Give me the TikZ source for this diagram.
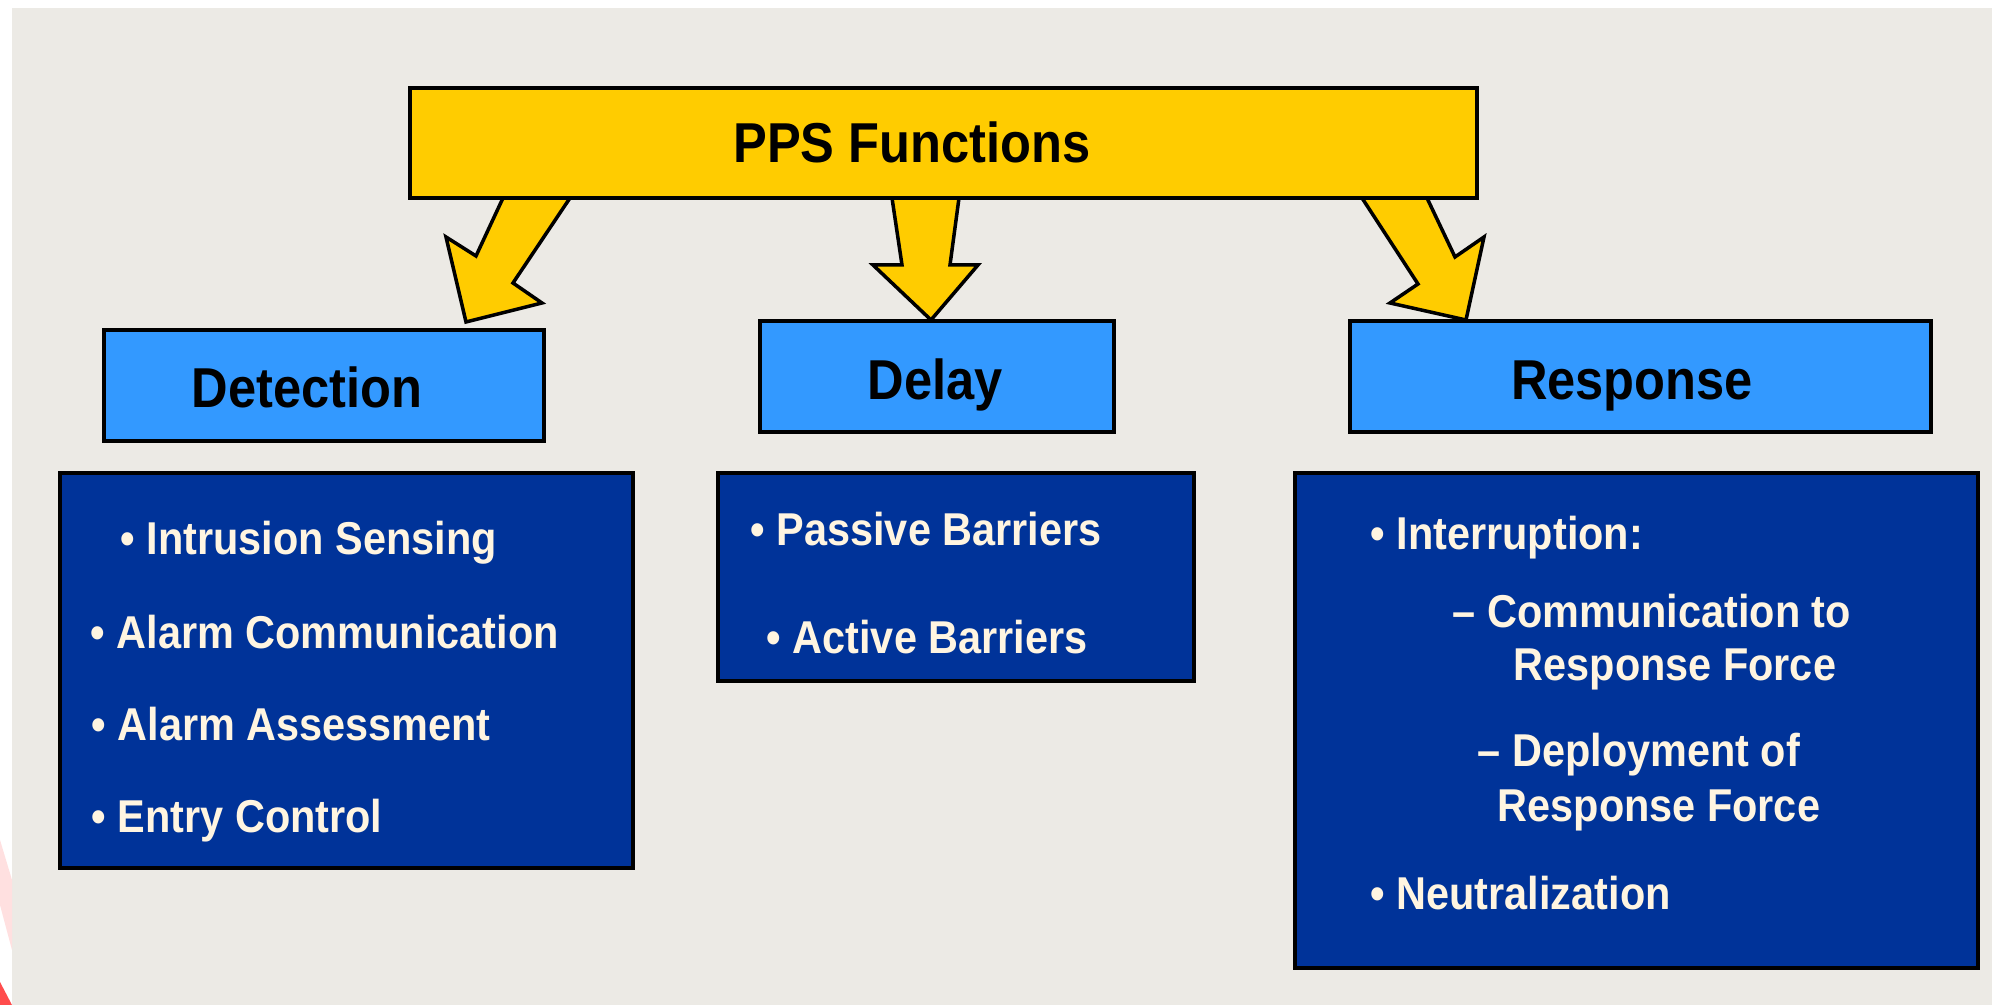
\documentclass[tikz,border=0pt]{standalone}
\usepackage{fontspec}
\setmainfont{Liberation Sans}[FakeStretch=0.9]
\usepackage{tikz}

\definecolor{ppsyellow}{RGB}{255,204,0}
\definecolor{headblue}{RGB}{51,153,255}
\definecolor{listblue}{RGB}{0,51,153}
\definecolor{cream}{RGB}{255,245,225}
\definecolor{slide}{RGB}{236,234,229}

\tikzset{
  headbox/.style={draw=black, line width=1pt, fill=headblue, minimum height=11.1mm, inner sep=0},
  listbox/.style={draw=black, line width=1pt, fill=listblue, inner sep=0},
  headtext/.style={anchor=base, inner sep=0, font=\fontsize{16}{19}\selectfont\bfseries},
  listtext/.style={anchor=base west, inner sep=0, text=cream, font=\fontsize{13.1}{16}\selectfont\bfseries},
  blockarrow/.style={draw=black, line width=1pt, fill=ppsyellow, line join=miter},
}

\begin{document}
\begin{tikzpicture}[x=0.1mm, y=-0.1mm]
\useasboundingbox (0,0) rectangle (1992,1005);
\fill[white] (0,0) rectangle (1992,1005);
\fill[slide] (12,8) rectangle (1992,1005);
% red swoosh at the left edge
\fill[red!12] (0,840) -- (12,880) -- (12,950) -- (0,905) -- cycle;
\fill[red!70] (0,982) -- (12,1005) -- (0,1005) -- cycle;

% block arrows
\draw[blockarrow] (503,198) -- (476,256) -- (446,237) -- (466,322) -- (542,303) -- (513,283) -- (570,198) -- cycle;
\draw[blockarrow] (892,198) -- (902,265) -- (873,265) -- (931,320) -- (978,265) -- (950,265) -- (959,198) -- cycle;
\draw[blockarrow] (1362,198) -- (1418,284) -- (1390,303) -- (1466,320) -- (1484,237) -- (1455,257) -- (1427,198) -- cycle;

% boxes
\node[draw=black, line width=1pt, fill=ppsyellow, minimum width=106.7mm, minimum height=11mm] (pps) at (943.5,143) {};
\node[headbox, minimum width=44mm] (detect) at (324,385.5) {};
\node[headbox, minimum width=35.4mm] (delay) at (937,376.5) {};
\node[headbox, minimum width=58.1mm] (response) at (1640.5,376.5) {};
\node[listbox, minimum width=57.3mm, minimum height=39.5mm] (detectlist) at (346.5,670.5) {};
\node[listbox, minimum width=47.6mm, minimum height=20.8mm] (delaylist) at (956,577) {};
\node[listbox, minimum width=68.3mm, minimum height=49.5mm] (responselist) at (1636.5,720.5) {};

% headings
\node[headtext] (ppstext) at (912,163) {PPS Functions};
\node[headtext] (detecttext) at (307,408) {Detection};
\node[headtext] (delaytext) at (935,400) {Delay};
\node[headtext] (responsetext) at (1632,400) {Response};

% list entries
\foreach \txt/\x/\y [count=\i] in {Intrusion Sensing/120/555, Alarm Communication/90/649, Alarm Assessment/91/741, Entry Control/91/833}
  \node[listtext] (det\i) at (\x,\y) {\textbullet\ \txt};
\foreach \txt/\x/\y [count=\i] in {Passive Barriers/750/546, Active Barriers/766/654}
  \node[listtext] (del\i) at (\x,\y) {\textbullet\ \txt};
\node[listtext] (res1) at (1370,550) {\textbullet\ Interruption:};
\node[listtext] (res2) at (1452,628) {– Communication to};
\node[listtext] (res3) at (1513,681) {Response Force};
\node[listtext] (res4) at (1477,767) {– Deployment of};
\node[listtext] (res5) at (1497,822) {Response Force};
\node[listtext] (res6) at (1370,910) {\textbullet\ Neutralization};
\end{tikzpicture}
\end{document}
